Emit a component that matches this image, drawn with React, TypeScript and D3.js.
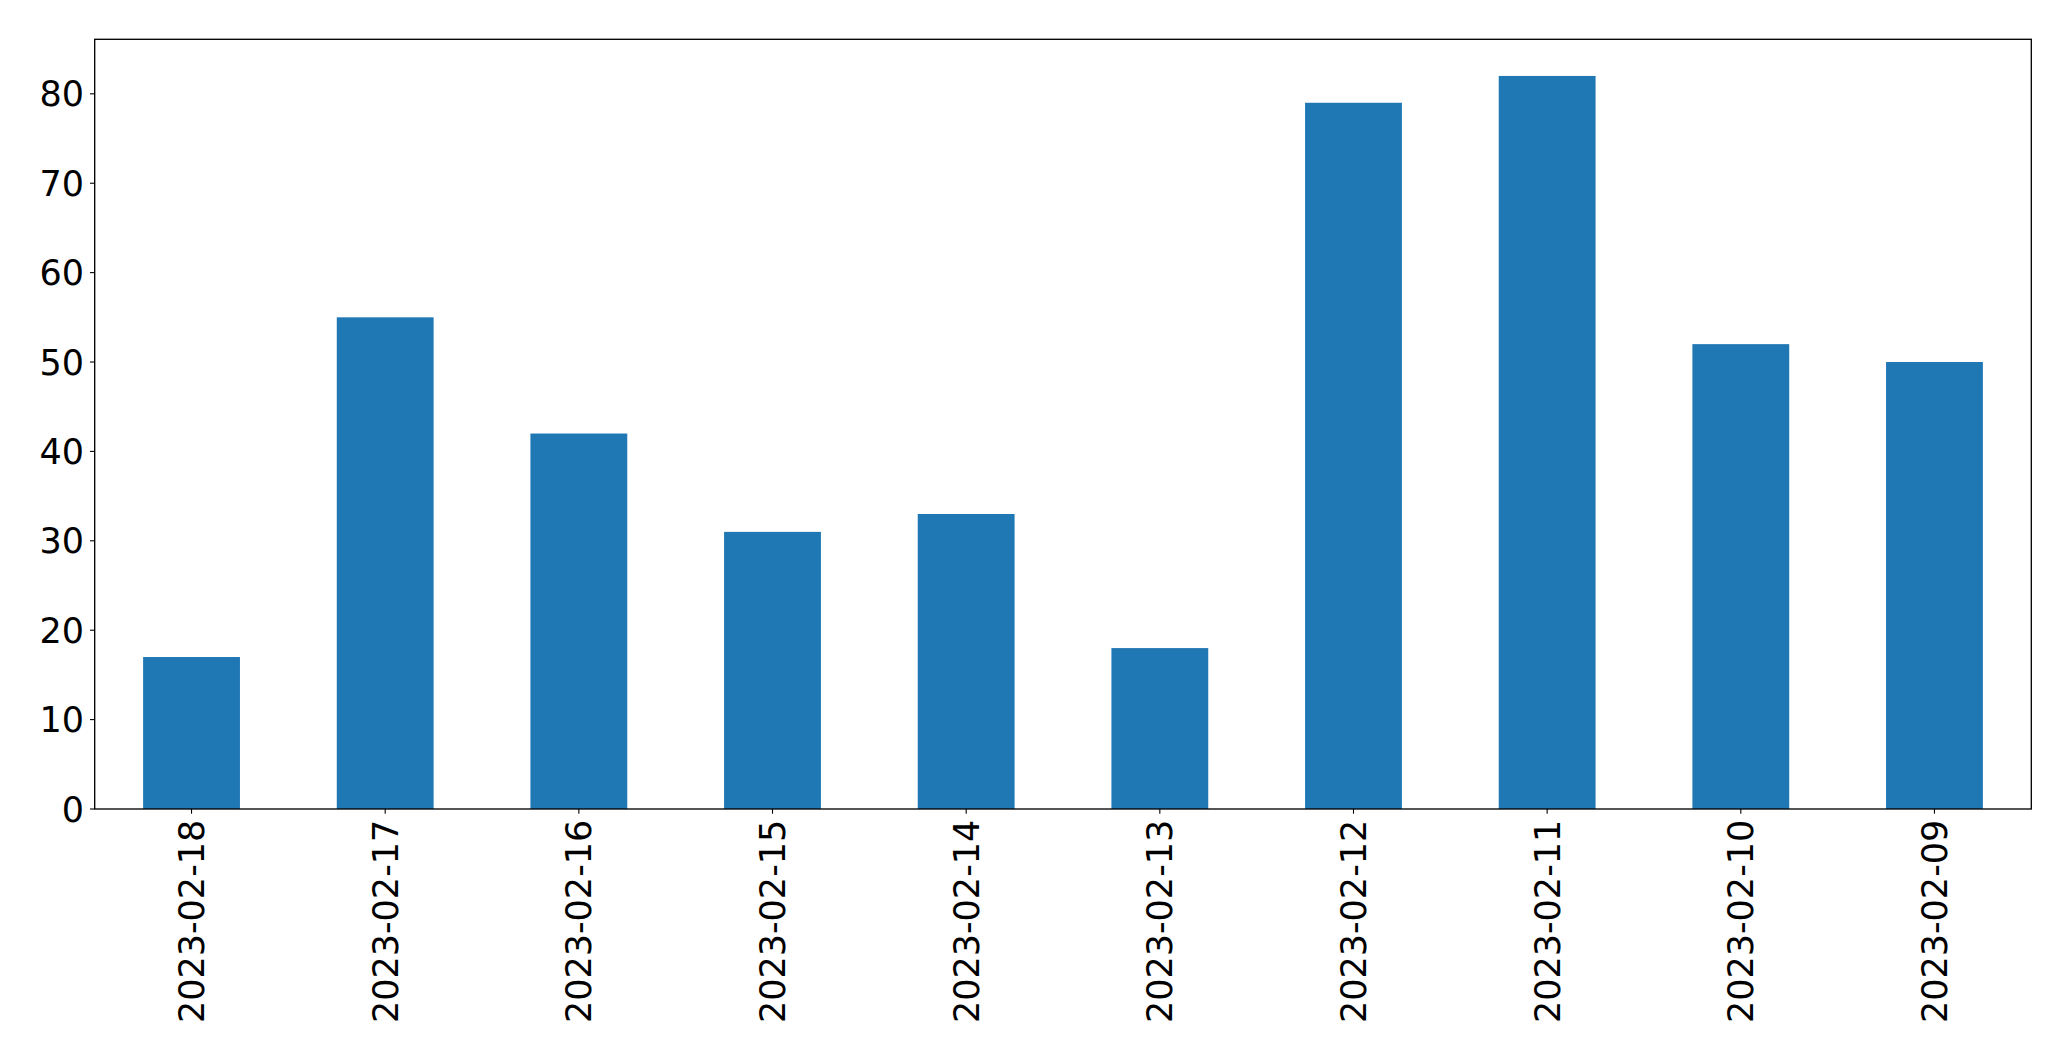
import React from "react";
import * as d3 from "d3";

const categories = ["2023-02-18","2023-02-17","2023-02-16","2023-02-15","2023-02-14","2023-02-13","2023-02-12","2023-02-11","2023-02-10","2023-02-09"];
const values = [17, 55, 42, 31, 33, 18, 79, 82, 52, 50];
const yTicks = [0, 10, 20, 30, 40, 50, 60, 70, 80];

const W = 2071, H = 1061;
const left = 94.7, right = 2031.3, top = 39.3, bottom = 809;
const FS = 35;

export default function App() {
  const x = d3.scaleLinear().domain([-0.5, categories.length - 0.5]).range([left, right]);
  const y = d3.scaleLinear().domain([0, d3.max(values)! * 1.05]).range([bottom, top]);
  const bw = x(0.25) - x(-0.25);
  return (
    <svg width={W} height={H} style={{ position: "absolute", left: 0, top: 0, background: "#fff" }}
      fontFamily="DejaVu Sans" >
      <rect x={0} y={0} width={W} height={H} fill="#fff" />
      {values.map((v, i) => (
        <rect key={i} x={x(i) - bw / 2} y={y(v)} width={bw} height={y(0) - y(v)} fill="#1f77b4" />
      ))}
      <rect x={left} y={top} width={right - left} height={bottom - top} fill="none" stroke="#000" strokeWidth={1.33} />
      {yTicks.map((t) => (
        <g key={t}>
          <line x1={left - 4.7} x2={left} y1={y(t)} y2={y(t)} stroke="#000" strokeWidth={1.1} />
          <text x={left - 4.7 - 6} y={y(t)} dy="0.36em" textAnchor="end" fontSize={FS} fill="#000">{t}</text>
        </g>
      ))}
      {categories.map((c, i) => (
        <g key={c}>
          <line x1={x(i)} x2={x(i)} y1={bottom} y2={bottom + 4.7} stroke="#000" strokeWidth={1.1} />
          <text transform={`translate(${x(i)},${bottom + 4.7 + 6}) rotate(-90)`} dy="0.36em" textAnchor="end" fontSize={FS} fill="#000">{c}</text>
        </g>
      ))}
    </svg>
  );
}
